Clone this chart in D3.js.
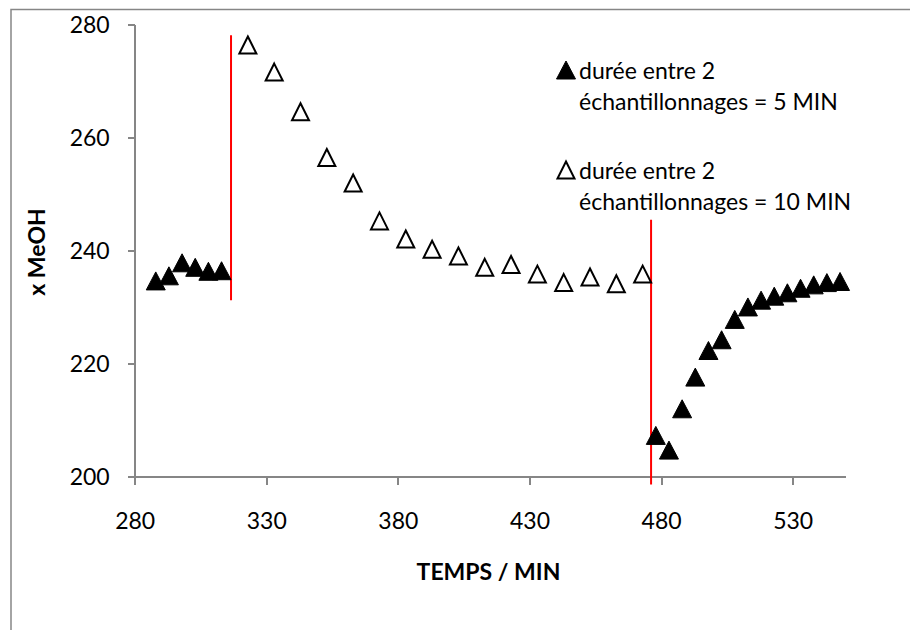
<!DOCTYPE html>

<head>
  <meta charset="utf-8">
  <script src="https://d3js.org/d3.v7.min.js"></script>
  <style>
    body {
      margin: 0;
      background: #fff;
      font-family: Lato, "Open Sans", sans-serif;
      color: #000;
    }

    .axis path,
    .axis line {
      stroke: #868686;
      stroke-width: 2px;
      shape-rendering: crispEdges;
    }

    .axis text {
      font-family: Lato, "Open Sans", sans-serif;
      font-size: 23px;
      fill: #000;
    }

    .title {
      font-size: 23px;
      font-weight: bold;
      fill: #000;
    }

    .legend text {
      font-size: 23px;
      fill: #000;
    }

    .separator {
      stroke: #ff0000;
      stroke-width: 2px;
    }

    .frame {
      fill: none;
      stroke: #868686;
      stroke-width: 1.5px;
    }
  </style>
</head>

<body>
  <div id="vis"></div>
  <script>

    // samples every 5 min (filled) and every 10 min (open)
    var filledX1 = [288, 293, 298, 303, 308, 313];
    var filledY1 = [234.6, 235.5, 237.8, 237.0, 236.3, 236.4];

    var openX = [323, 333, 343, 353, 363, 373, 383, 393, 403, 413, 423, 433, 443, 453, 463, 473];
    var openY = [276.3, 271.5, 264.5, 256.4, 251.9, 245.2, 242.0, 240.2, 239.0, 237.0, 237.5, 235.8, 234.3, 235.3, 234.1, 235.8];

    var filledX2 = [478, 483, 488, 493, 498, 503, 508, 513, 518, 523, 528, 533, 538, 543, 548];
    var filledY2 = [207.3, 204.7, 212.0, 217.6, 222.3, 224.2, 227.8, 230.0, 231.2, 231.9, 232.5, 233.3, 233.9, 234.3, 234.5];

    // red vertical markers: x, y top, y bottom
    var separators = [[316.6, 278, 231.2], [476.2, 245.4, 198.6]];

    var xTicks = [280, 330, 380, 430, 480, 530];
    var yTicks = [200, 220, 240, 260, 280];

    var legendLabels = [
      ["durée entre 2", "échantillonnages = 5 MIN"],
      ["durée entre 2", "échantillonnages = 10 MIN"]
    ];

    var width = 910,
      height = 630;

    var svg = d3.select("#vis")
      .append("svg")
      .attr("width", width)
      .attr("height", height);

    svg.append("rect")
      .attr("class", "frame")
      .attr("x", 11)
      .attr("y", 9.5)
      .attr("width", 920)
      .attr("height", 640);

    var x = d3.scaleLinear()
      .domain([280, 550])
      .range([134.7, 845.3]);

    var y = d3.scaleLinear()
      .domain([200, 280])
      .range([476.7, 24]);

    ////////// axes //////////

    var xAxis = svg.append("g")
      .attr("class", "axis")
      .attr("transform", "translate(0," + y(200) + ")")
      .call(d3.axisBottom(x).tickValues(xTicks).tickSize(8).tickSizeOuter(0).tickPadding(29));

    var yAxis = svg.append("g")
      .attr("class", "axis")
      .attr("transform", "translate(" + x(280) + ",0)")
      .call(d3.axisLeft(y).tickValues(yTicks).tickSize(7).tickSizeOuter(0).tickPadding(18));

    xAxis.selectAll("text").attr("dy", 0).attr("y", 52);
    yAxis.selectAll("text").attr("dy", "0.35em");

    svg.append("text")
      .attr("class", "title")
      .attr("x", 488.5)
      .attr("y", 580)
      .attr("text-anchor", "middle")
      .text("TEMPS / MIN");

    svg.append("text")
      .attr("class", "title")
      .attr("transform", "translate(45,252) rotate(-90)")
      .attr("text-anchor", "middle")
      .text("x MeOH");

    ////////// red markers //////////

    svg.selectAll(".separator")
      .data(separators)
      .enter()
      .append("line")
      .attr("class", "separator")
      .attr("x1", function (d) { return x(d[0]); })
      .attr("x2", function (d) { return x(d[0]); })
      .attr("y1", function (d) { return y(d[1]); })
      .attr("y2", function (d) { return y(d[2]); });

    ////////// points //////////

    function tri(w, h) {
      return "M0," + (-h / 2) + "L" + (w / 2) + "," + (h / 2) + "L" + (-w / 2) + "," + (h / 2) + "Z";
    }

    function zip(xs, ys) {
      return xs.map(function (v, i) { return [v, ys[i]]; });
    }

    function drawPoints(data, filled) {
      svg.append("g")
        .selectAll("path")
        .data(data)
        .enter()
        .append("path")
        .attr("d", filled ? tri(19, 18) : tri(17, 17))
        .attr("transform", function (d) { return "translate(" + x(d[0]) + "," + y(d[1]) + ")"; })
        .attr("fill", filled ? "#000" : "#fff")
        .attr("stroke", "#000")
        .attr("stroke-width", filled ? 1 : 2);
    }

    drawPoints(zip(filledX1, filledY1), true);
    drawPoints(zip(openX, openY), false);
    drawPoints(zip(filledX2, filledY2), true);

    ////////// legend //////////

    var legend = svg.append("g")
      .attr("class", "legend");

    legendLabels.forEach(function (lines, i) {
      var top = 79 + i * 100;
      legend.append("path")
        .attr("d", i == 0 ? tri(19, 18) : tri(17, 17))
        .attr("transform", "translate(566," + (top - 9) + ")")
        .attr("fill", i == 0 ? "#000" : "#fff")
        .attr("stroke", "#000")
        .attr("stroke-width", i == 0 ? 1 : 2);
      lines.forEach(function (t, j) {
        legend.append("text")
          .attr("x", 579)
          .attr("y", top + j * 31)
          .text(t);
      });
    });

  </script>
</body>
